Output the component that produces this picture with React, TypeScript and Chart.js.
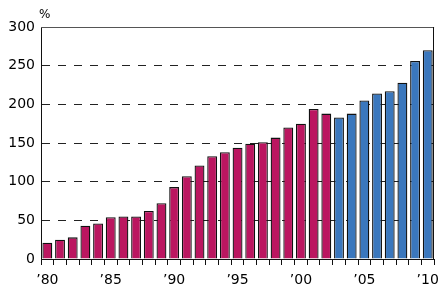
import React, { useEffect, useRef } from 'react';
import { Chart, registerables } from 'chart.js';

Chart.register(...registerables);

const years = [
  '1980', '1981', '1982', '1983', '1984', '1985', '1986', '1987', '1988', '1989',
  '1990', '1991', '1992', '1993', '1994', '1995', '1996', '1997', '1998', '1999',
  '2000', '2001', '2002', '2003', '2004', '2005', '2006', '2007', '2008', '2009', '2010',
];

const tickLabels: Record<string, string> = {
  '1980': '\u201980', '1985': '\u201985', '1990': '\u201990', '1995': '\u201995',
  '2000': '\u201900', '2005': '\u201905', '2010': '\u201910',
};

const seriesA = [
  21, 25, 28, 43, 46, 54, 55, 55, 62, 72,
  93, 107, 121, 133, 138, 144, 149, 151, 157, 170,
  175, 194, 188, null, null, null, null, null, null, null, null,
];

const seriesB = [
  null, null, null, null, null, null, null, null, null, null,
  null, null, null, null, null, null, null, null, null, null,
  null, null, null, 183, 188, 205, 214, 217, 228, 256, 270,
];

const yTicks = [0, 50, 100, 150, 200, 250, 300];

const framePlugin = {
  id: 'frame',
  afterDraw(chart: any) {
    const { ctx, chartArea } = chart;
    ctx.save();
    ctx.lineWidth = 1;
    ctx.strokeStyle = '#555';
    ctx.beginPath();
    ctx.moveTo(chartArea.left, Math.round(chartArea.top) + 0.5);
    ctx.lineTo(chartArea.right, Math.round(chartArea.top) + 0.5);
    ctx.stroke();
    ctx.strokeStyle = '#111';
    ctx.beginPath();
    ctx.moveTo(Math.round(chartArea.right) - 0.5, chartArea.top);
    ctx.lineTo(Math.round(chartArea.right) - 0.5, chartArea.bottom);
    ctx.stroke();
    ctx.fillStyle = '#000';
    ctx.font = '12px "DejaVu Sans"';
    ctx.textAlign = 'left';
    ctx.textBaseline = 'middle';
    ctx.fillText('%', 39, 15);
    ctx.restore();
  },
};

export default function App() {
  const ref = useRef<HTMLCanvasElement | null>(null);

  useEffect(() => {
    document.body.style.margin = '0';
    if (!ref.current) return;
    Chart.defaults.font.family = '"DejaVu Sans", sans-serif';
    Chart.defaults.font.size = 14;
    Chart.defaults.color = '#000';
    const chart = new Chart(ref.current, {
      type: 'bar',
      data: {
        labels: years,
        datasets: [
          {
            data: seriesA,
            backgroundColor: '#BB1660',
            borderColor: '#111',
            borderWidth: 1.3,
            barPercentage: 0.78,
            categoryPercentage: 1,
            grouped: false,
          },
          {
            data: seriesB,
            backgroundColor: '#3A77BD',
            borderColor: '#111',
            borderWidth: 1.3,
            barPercentage: 0.78,
            categoryPercentage: 1,
            grouped: false,
          },
        ],
      },
      options: {
        responsive: false,
        animation: false,
        devicePixelRatio: 1,
        layout: { padding: { left: 0, right: 7, top: 27, bottom: 0 } },
        plugins: { legend: { display: false }, tooltip: { enabled: false } },
        scales: {
          x: {
            grid: {
              drawOnChartArea: false,
              drawTicks: true,
              tickLength: 6,
              color: '#111',
              offset: true,
            },
            border: { display: true, color: '#111', width: 1 },
            ticks: {
              autoSkip: false,
              maxRotation: 0,
              padding: 7,
              callback: (_v: any, i: number) => tickLabels[years[i]] || '',
            },
            afterFit: (scale: any) => { scale.height = 29; },
          },
          y: {
            min: 0,
            max: 300,
            afterBuildTicks: (scale: any) => {
              scale.ticks = yTicks.map((v) => ({ value: v }));
            },
            grid: {
              drawTicks: false,
              color: (ctx: any) =>
                ctx.tick && (ctx.tick.value === 0 || ctx.tick.value === 300) ? 'rgba(0,0,0,0)' : '#222',
              lineWidth: 1,
            },
            border: { display: true, color: '#111', width: 1, dash: [8, 8] },
            ticks: { padding: 6 },
            afterFit: (scale: any) => { scale.width = 41; },
          },
        },
      },
      plugins: [framePlugin],
    });
    return () => chart.destroy();
  }, []);

  return <canvas ref={ref} width={446} height={288} />;
}
